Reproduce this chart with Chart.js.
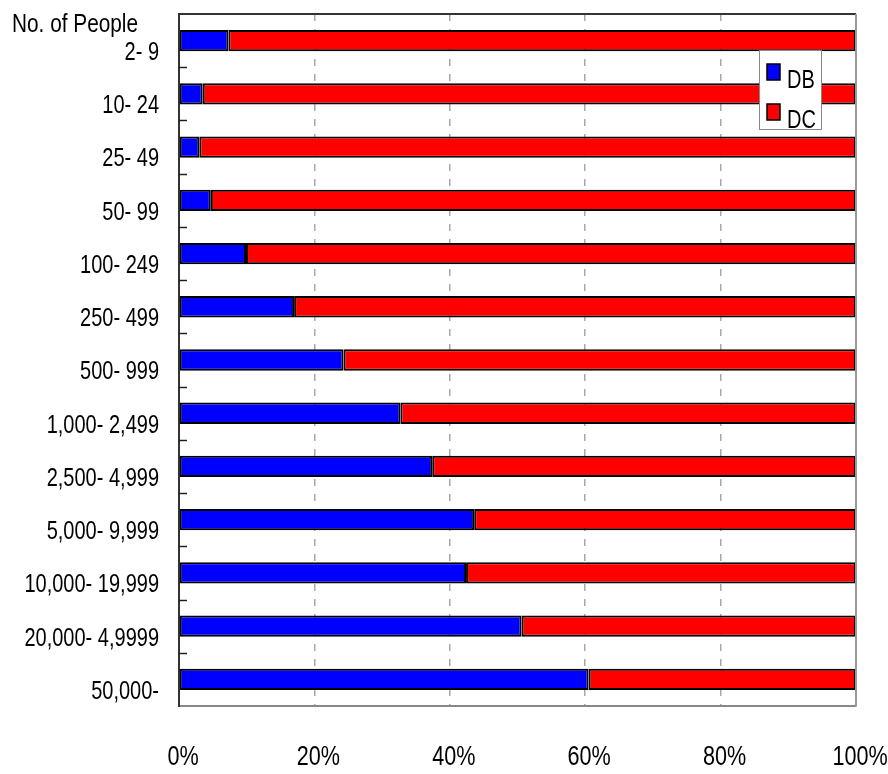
<!DOCTYPE html>
<html>
<head>
<meta charset="utf-8">
<script src="https://cdn.jsdelivr.net/npm/chart.js@4.4.1/dist/chart.umd.min.js"></script>
<style>
  body { margin: 0; background: #fff; }
  #wrap { width: 888px; height: 774px; }
</style>
</head>
<body>
<div id="wrap"><canvas id="chart"></canvas></div>
<script>
// category labels (number of people)
const sizeBands = [
  '2- 9', '10- 24', '25- 49', '50- 99', '100- 249', '250- 499', '500- 999',
  '1,000- 2,499', '2,500- 4,999', '5,000- 9,999', '10,000- 19,999',
  '20,000- 4,9999', '50,000-'
];
// share of DB plans (%)
const dbShare = [7.3, 3.5, 3.0, 4.7, 9.9, 17.0, 24.3, 32.7, 37.4, 43.6, 42.4, 50.6, 60.5];
// share of DC plans (%)
const dcShare = [92.7, 96.5, 97.0, 95.3, 90.1, 83.0, 75.7, 67.3, 62.6, 56.4, 57.6, 49.4, 39.5];
// x axis ticks
const pctTicks = [0, 20, 40, 60, 80, 100];

const FONT = "'Liberation Sans', Arial, sans-serif";
const SQUEEZE = 0.8;   // the original uses a narrow face

function narrowText(ctx, txt, x, y, size, align, base) {
  ctx.save();
  ctx.font = size + 'px ' + FONT;
  ctx.fillStyle = '#000';
  ctx.textAlign = align;
  ctx.textBaseline = base;
  ctx.translate(x, y);
  ctx.scale(SQUEEZE, 1);
  ctx.fillText(txt, 0, 0);
  ctx.restore();
}

// frame, inner y tick marks, tick labels, corner title and floating legend
const decor = {
  id: 'decor',
  afterDraw(chart) {
    const { ctx, chartArea: a, scales: { x, y } } = chart;
    ctx.save();
    ctx.lineWidth = 2;
    ctx.strokeStyle = '#333';
    ctx.beginPath(); ctx.moveTo(a.left, a.top); ctx.lineTo(a.right, a.top); ctx.stroke();
    ctx.strokeStyle = '#999';
    ctx.beginPath(); ctx.moveTo(a.right, a.top); ctx.lineTo(a.right, a.bottom); ctx.stroke();

    // short marks between categories, inside the axis
    ctx.strokeStyle = '#222';
    ctx.lineWidth = 1.5;
    for (let i = 1; i < sizeBands.length; i++) {
      const yy = Math.round((y.getPixelForValue(i - 1) + y.getPixelForValue(i)) / 2) + 0.5;
      ctx.beginPath(); ctx.moveTo(a.left, yy); ctx.lineTo(a.left + 8, yy); ctx.stroke();
    }
    ctx.restore();

    // category labels
    sizeBands.forEach((lab, i) => {
      narrowText(ctx, lab, a.left - 20, y.getPixelForValue(i) + 12.5, 25, 'right', 'middle');
    });
    // percentage labels
    pctTicks.forEach(v => {
      narrowText(ctx, v + '%', x.getPixelForValue(v) + 4, a.bottom + 52, 27, 'center', 'middle');
    });

    narrowText(ctx, 'No. of People', 12, 32, 26, 'left', 'alphabetic');

    // legend box
    ctx.save();
    ctx.fillStyle = '#fff';
    ctx.fillRect(759, 50, 62, 79);
    ctx.strokeStyle = '#888';
    ctx.lineWidth = 1;
    ctx.strokeRect(759.5, 50.5, 62, 79);
    chart.data.datasets.forEach((ds, i) => {
      const top = 64 + i * 40;
      ctx.fillStyle = ds.backgroundColor;
      ctx.fillRect(767, top, 13, 16);
      ctx.strokeStyle = '#000';
      ctx.lineWidth = 1.5;
      ctx.strokeRect(767, top, 13, 16);
      narrowText(ctx, ds.label, 787, top + 24, 25, 'left', 'alphabetic');
    });
    ctx.restore();
  }
};

new Chart(document.getElementById('chart'), {
  type: 'bar',
  data: {
    labels: sizeBands,
    datasets: [
      { label: 'DB', data: dbShare, backgroundColor: '#0000ff' },
      { label: 'DC', data: dcShare, backgroundColor: '#ff0000' }
    ]
  },
  options: {
    indexAxis: 'y',
    responsive: true,
    maintainAspectRatio: false,
    animation: false,
    layout: { padding: { top: 14, right: 32, left: 0, bottom: 0 } },
    datasets: {
      bar: {
        borderColor: '#000',
        borderWidth: 2,
        borderSkipped: false,
        barPercentage: 0.8,
        categoryPercentage: 0.5
      }
    },
    plugins: {
      legend: { display: false },
      tooltip: { enabled: false }
    },
    scales: {
      x: {
        stacked: true,
        min: 0,
        max: 100,
        ticks: { display: false, stepSize: 20 },
        grid: {
          drawTicks: false,
          color: c => (c.tick && (c.tick.value === 0 || c.tick.value === 100)) ? 'rgba(0,0,0,0)' : '#a8a8a8',
          lineWidth: 1.5
        },
        border: { display: true, color: '#888', width: 2, dash: [7, 8] },
        afterFit: s => { s.height = 68; }
      },
      y: {
        stacked: true,
        ticks: { display: false },
        grid: { drawTicks: false, color: 'rgba(0,0,0,0)' },
        border: { display: true, color: '#333', width: 2 },
        afterFit: s => { s.width = 179; }
      }
    }
  },
  plugins: [decor]
});
</script>
</body>
</html>
